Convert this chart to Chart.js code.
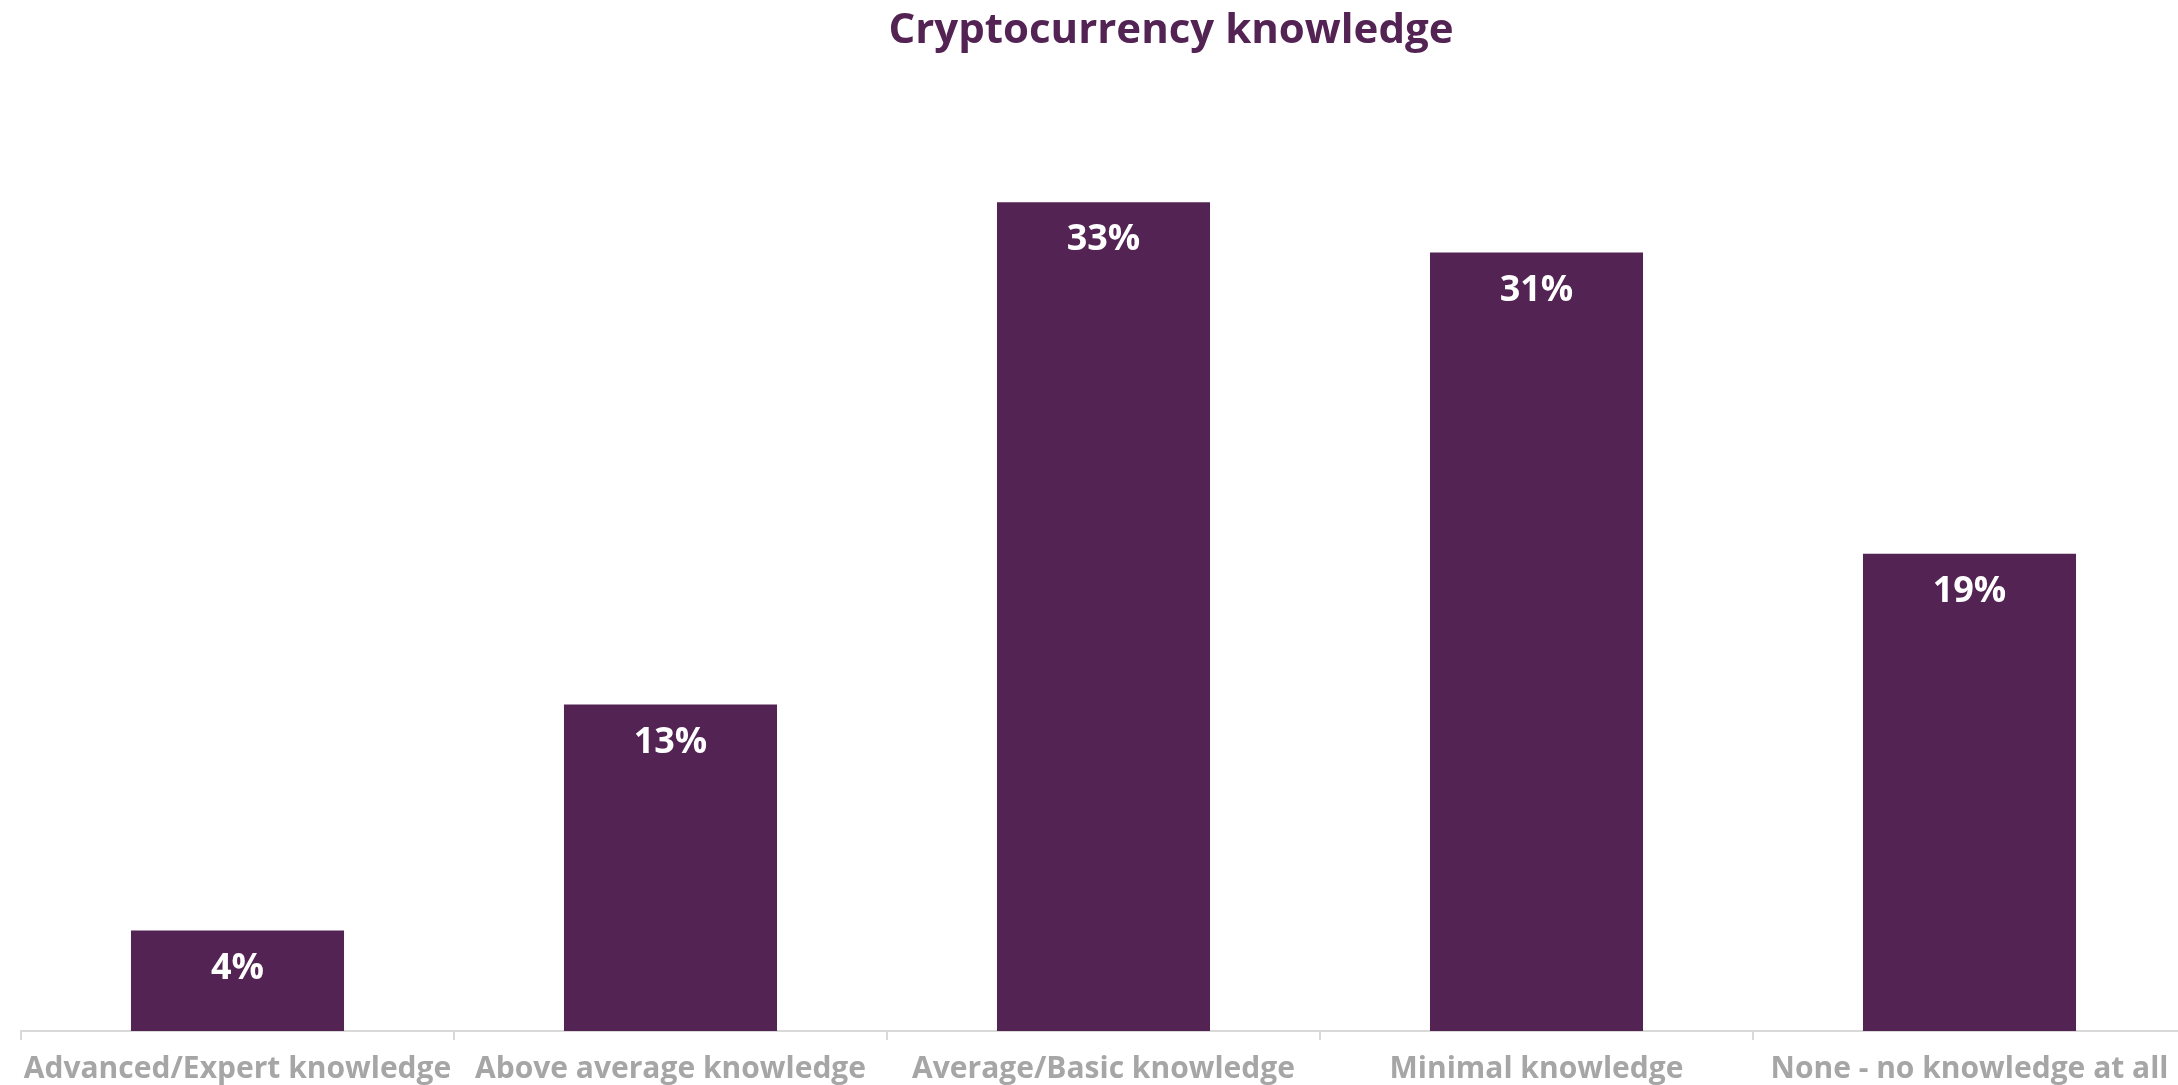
<!DOCTYPE html>
<html>
<head>
<meta charset="utf-8">
<script src="https://cdn.jsdelivr.net/npm/chart.js@4.4.1/dist/chart.umd.min.js"></script>
<style>
  html, body { margin: 0; padding: 0; background: #ffffff; overflow: hidden; }
  #wrap { position: relative; width: 2186px; height: 1085px; }
</style>
</head>
<body>
<div id="wrap"><canvas id="chart"></canvas></div>
<script>
// Survey answers and their shares (percent)
const categories = [
  'Advanced/Expert knowledge',
  'Above average knowledge',
  'Average/Basic knowledge',
  'Minimal knowledge',
  'None - no knowledge at all'
];
const shares = [4, 13, 33, 31, 19];
const titleText = 'Cryptocurrency knowledge';

const PURPLE = '#522353';
const GREY = '#a6a6a6';
const FONT = "'Open Sans', 'DejaVu Sans', sans-serif";

// Chart title, drawn slightly right of centre
const titlePlugin = {
  id: 'sideTitle',
  afterDraw(chart) {
    const ctx = chart.ctx;
    ctx.save();
    ctx.font = `700 42px ${FONT}`;
    ctx.fillStyle = PURPLE;
    ctx.textAlign = 'center';
    ctx.textBaseline = 'middle';
    ctx.fillText(titleText, 1171, 31);
    ctx.restore();
  }
};

// Percentage labels inside the top of each bar
const valueLabels = {
  id: 'valueLabels',
  afterDatasetsDraw(chart) {
    const ctx = chart.ctx;
    const meta = chart.getDatasetMeta(0);
    ctx.save();
    ctx.font = `700 36px ${FONT}`;
    ctx.fillStyle = '#ffffff';
    ctx.textAlign = 'center';
    ctx.textBaseline = 'middle';
    meta.data.forEach((bar, i) => {
      ctx.fillText(shares[i] + '%', bar.x, bar.y + 38);
    });
    ctx.restore();
  }
};

new Chart(document.getElementById('chart'), {
  type: 'bar',
  data: {
    labels: categories,
    datasets: [{
      data: shares,
      backgroundColor: PURPLE,
      borderWidth: 0,
      categoryPercentage: 0.984,
      barPercentage: 0.5
    }]
  },
  options: {
    responsive: true,
    maintainAspectRatio: false,
    animation: false,
    layout: { padding: { top: 152, left: 21, right: 0, bottom: 0 } },
    plugins: {
      legend: { display: false },
      title: { display: false },
      tooltip: { enabled: false }
    },
    scales: {
      y: {
        display: false,
        min: 0,
        max: 35
      },
      x: {
        afterFit(scale) { scale.height = 54; },
        border: { display: true, color: '#d9d9d9', width: 2 },
        grid: {
          offset: true,
          drawOnChartArea: false,
          drawTicks: true,
          tickLength: 9,
          color: '#d9d9d9',
          lineWidth: 2
        },
        ticks: {
          autoSkip: false,
          maxRotation: 0,
          minRotation: 0,
          padding: 11,
          color: GREY,
          font: { family: FONT, size: 30, weight: '700' }
        }
      }
    }
  },
  plugins: [titlePlugin, valueLabels]
});
</script>
</body>
</html>
